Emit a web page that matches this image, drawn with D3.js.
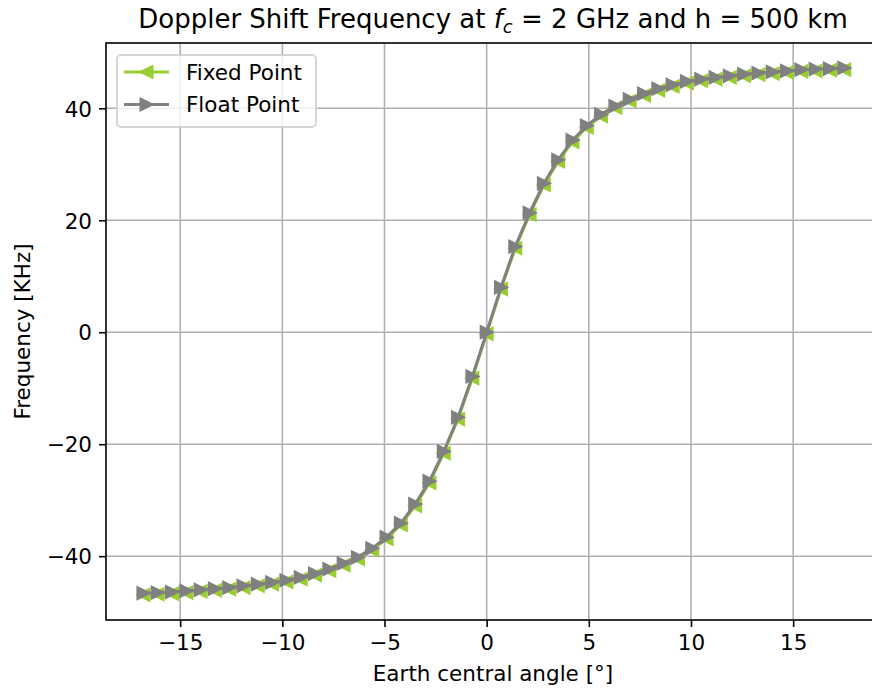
<!DOCTYPE html>
<html>
<head>
<meta charset="utf-8">
<script src="https://cdn.jsdelivr.net/npm/d3@7"></script>
<style>
  body { margin: 0; background: #fff; }
  svg { display: block; font-family: "DejaVu Sans", sans-serif; }
</style>
</head>
<body>
<svg id="doppler-chart" width="872" height="690"></svg>
<script>
// earth central angle [deg]
const angles = [-16.8, -16.1, -15.4, -14.7, -14.0, -13.3, -12.6, -11.9, -11.2, -10.5,
  -9.8, -9.1, -8.4, -7.7, -7.0, -6.3, -5.6, -4.9, -4.2, -3.5, -2.8, -2.1, -1.4, -0.7,
  0, 0.7, 1.4, 2.1, 2.8, 3.5, 4.2, 4.9, 5.6, 6.3, 7.0, 7.7, 8.4, 9.1, 9.8, 10.5,
  11.2, 11.9, 12.6, 13.3, 14.0, 14.7, 15.4, 16.1, 16.8, 17.5];

// doppler shift [KHz]
const fixedPoint = [-46.9, -46.8, -46.7, -46.5, -46.3, -46.1, -45.9, -45.6, -45.3, -45.0,
  -44.6, -44.1, -43.4, -42.6, -41.6, -40.5, -38.9, -36.9, -34.4, -31.0, -26.9, -21.6, -15.5, -8.2,
  -0.3, 7.7, 15.0, 21.0, 26.3, 30.5, 34.0, 36.6, 38.6, 40.1, 41.3, 42.3, 43.2, 43.9, 44.5, 44.9,
  45.2, 45.5, 45.8, 46.0, 46.2, 46.4, 46.6, 46.7, 46.8, 46.9];

const floatPoint = [-46.6, -46.5, -46.4, -46.2, -46.0, -45.8, -45.6, -45.3, -45.0, -44.7,
  -44.3, -43.8, -43.1, -42.3, -41.3, -40.2, -38.6, -36.6, -34.1, -30.7, -26.6, -21.3, -15.2, -7.9,
  0, 8.0, 15.3, 21.3, 26.6, 30.8, 34.3, 36.9, 38.9, 40.4, 41.6, 42.6, 43.5, 44.2, 44.8, 45.2,
  45.5, 45.8, 46.1, 46.3, 46.5, 46.7, 46.9, 47.0, 47.1, 47.2];

const xTicks = [-15, -10, -5, 0, 5, 10, 15];
const yTicks = [-40, -20, 0, 20, 40];

const seriesNames = ["Fixed Point", "Float Point"];
const seriesColors = ["#9acd32", "#808080"];
const seriesMarkers = ["left", "right"];

const svg = d3.select("#doppler-chart");
const margin = {top: 43, right: 880, bottom: 620, left: 106};
const fontSize = "21.5px";

const x = d3.scaleLinear().domain([-18.63, 19.25]).range([margin.left, margin.right]);
const y = d3.scaleLinear().domain([-51.4, 51.66]).range([margin.bottom, margin.top]);

function trianglePath(dir) {
  let r = 6;
  if (dir === "right") return "M" + r + ",0L" + (-r) + "," + (-r) + "L" + (-r) + "," + r + "Z";
  return "M" + (-r) + ",0L" + r + "," + (-r) + "L" + r + "," + r + "Z";
}

function minusFormat(d) { return d < 0 ? "\u2212" + Math.abs(d) : d; }

// grid
svg.append("g")
    .selectAll("line")
    .data(xTicks)
    .enter().append("line")
      .attr("x1", function(d) { return x(d); })
      .attr("x2", function(d) { return x(d); })
      .attr("y1", margin.top)
      .attr("y2", margin.bottom)
      .attr("stroke", "#b0b0b0")
      .attr("stroke-width", 1.6);

svg.append("g")
    .selectAll("line")
    .data(yTicks)
    .enter().append("line")
      .attr("x1", margin.left)
      .attr("x2", margin.right)
      .attr("y1", function(d) { return y(d); })
      .attr("y2", function(d) { return y(d); })
      .attr("stroke", "#b0b0b0")
      .attr("stroke-width", 1.6);

// series
const allSeries = [fixedPoint, floatPoint];
const line = d3.line()
    .x(function(d) { return x(d[0]); })
    .y(function(d) { return y(d[1]); });

allSeries.forEach(function(values, i) {
  let pts = angles.map(function(a, j) { return [a, values[j]]; });
  let g = svg.append("g");
  g.append("path")
      .datum(pts)
      .attr("d", line)
      .attr("fill", "none")
      .attr("stroke", seriesColors[i])
      .attr("stroke-width", 3);
  g.selectAll(".marker")
    .data(pts)
    .enter().append("path")
      .attr("class", "marker")
      .attr("transform", function(d) { return "translate(" + x(d[0]) + "," + y(d[1]) + ")"; })
      .attr("d", trianglePath(seriesMarkers[i]))
      .attr("fill", seriesColors[i])
      .attr("stroke", seriesColors[i])
      .attr("stroke-width", 2);
});

// axes
const xAxis = svg.append("g")
    .attr("transform", "translate(0," + margin.bottom + ")")
    .call(d3.axisBottom(x).tickValues(xTicks).tickSize(7).tickPadding(7).tickFormat(minusFormat));

const yAxis = svg.append("g")
    .attr("transform", "translate(" + margin.left + ",0)")
    .call(d3.axisLeft(y).tickValues(yTicks).tickSize(7).tickPadding(7).tickFormat(minusFormat));

[xAxis, yAxis].forEach(function(ax) {
  ax.select(".domain").remove();
  ax.selectAll(".tick line").attr("stroke", "#000").attr("stroke-width", 1.6);
  ax.selectAll(".tick text")
      .attr("fill", "#000")
      .style("font-family", "DejaVu Sans")
      .style("font-size", fontSize);
});
xAxis.selectAll(".tick text").attr("dy", "0.74em");
yAxis.selectAll(".tick text").attr("dy", "0.36em");

// spines
svg.append("rect")
    .attr("x", margin.left)
    .attr("y", margin.top)
    .attr("width", margin.right - margin.left)
    .attr("height", margin.bottom - margin.top)
    .attr("fill", "none")
    .attr("stroke", "#000")
    .attr("stroke-width", 1.6);

// labels
svg.append("text")
    .attr("x", (margin.left + margin.right) / 2)
    .attr("y", 681)
    .attr("text-anchor", "middle")
    .style("font-size", fontSize)
    .text("Earth central angle [\u00b0]");

svg.append("text")
    .attr("transform", "translate(30," + ((margin.top + margin.bottom) / 2) + ") rotate(-90)")
    .attr("text-anchor", "middle")
    .style("font-size", fontSize)
    .text("Frequency [KHz]");

const title = svg.append("text")
    .attr("x", (margin.left + margin.right) / 2)
    .attr("y", 28)
    .attr("text-anchor", "middle")
    .style("font-size", "26px");
title.append("tspan").text("Doppler Shift Frequency at ");
title.append("tspan").attr("font-style", "italic").text("f");
title.append("tspan").attr("font-style", "italic").attr("font-size", "18px").attr("dy", 5).text("c");
title.append("tspan").attr("dy", -5).text(" = 2 GHz and h = 500 km");

// legend
const legend = svg.append("g").attr("transform", "translate(117,55)");
legend.append("rect")
    .attr("width", 199)
    .attr("height", 72)
    .attr("rx", 4)
    .attr("fill", "#fff")
    .attr("fill-opacity", 0.8)
    .attr("stroke", "#cccccc")
    .attr("stroke-opacity", 0.8)
    .attr("stroke-width", 2);

seriesNames.forEach(function(name, i) {
  let row = legend.append("g").attr("transform", "translate(0," + (17 + i * 32.5) + ")");
  row.append("line")
      .attr("x1", 7).attr("x2", 52)
      .attr("stroke", seriesColors[i])
      .attr("stroke-width", 3);
  row.append("path")
      .attr("transform", "translate(29.5,0)")
      .attr("d", trianglePath(seriesMarkers[i]))
      .attr("fill", seriesColors[i])
      .attr("stroke", seriesColors[i])
      .attr("stroke-width", 2);
  row.append("text")
      .attr("x", 69)
      .attr("y", 7.8)
      .style("font-size", fontSize)
      .text(name);
});
</script>
</body>
</html>
